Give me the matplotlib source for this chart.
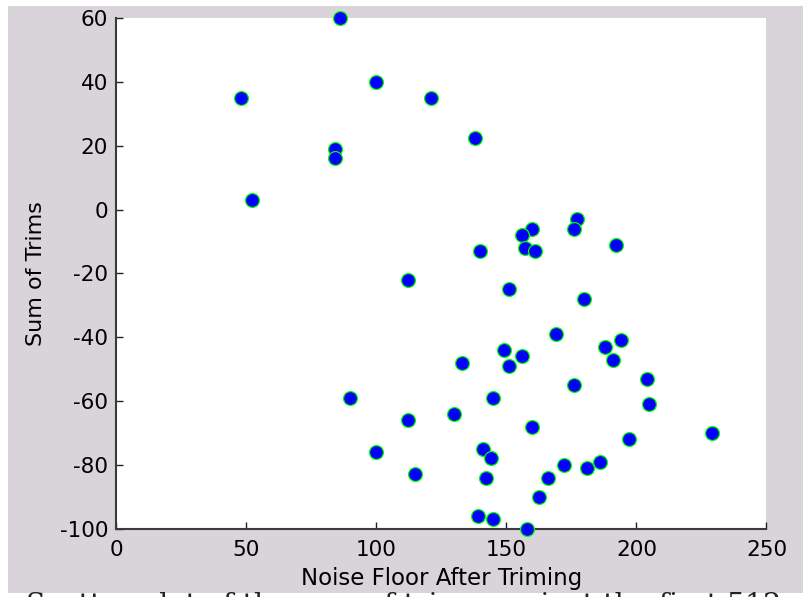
import numpy as np
import matplotlib
matplotlib.use('Agg')
import matplotlib.pyplot as plt
from matplotlib.patches import Rectangle

# noise floor after trimming vs sum of trims
noise_floor = [48, 52, 86, 84, 84, 100, 121, 138, 177, 176,
               160, 156, 157, 161, 140, 112, 151, 180, 169, 149,
               156, 192, 194, 188, 191, 133, 151, 90, 145, 130,
               112, 160, 100, 141, 144, 115, 142, 166, 162.5, 139,
               145, 158, 204, 176, 205, 229, 197, 172, 186, 181]
sum_trims = [35, 3, 60, 19, 16, 40, 35, 22.4, -3, -6,
             -6, -8, -12, -13, -13, -22, -25, -28, -39, -44,
             -46, -11, -41, -43, -47, -48, -49, -59, -59, -64,
             -66, -68, -76, -75, -78, -83, -84, -84, -90, -96,
             -97, -100, -53, -55, -61, -70, -72, -80, -79, -81]

xticks = [0, 50, 100, 150, 200, 250]
yticks = [-100, -80, -60, -40, -20, 0, 20, 40, 60]

plt.rcParams['font.family'] = ['DejaVu Sans']
plt.rcParams['axes.unicode_minus'] = False

fig = plt.figure(figsize=(8.04, 5.97), dpi=100, facecolor='white')
# matlab style gray window background
bg = Rectangle((8/804, 4/597), 1.0, 587/597, transform=fig.transFigure,
               facecolor='#d8d4da', edgecolor='none', zorder=-10)
fig.add_artist(bg)

ax = fig.add_axes([116.5/804, 68.3/597, 650/804, 510.7/597])
ax.set_zorder(1)
ax.set_facecolor('white')

ax.plot(noise_floor, sum_trims, linestyle='none', marker='o', markersize=10,
        markerfacecolor='#0000ff', markeredgecolor='#00ff00', markeredgewidth=0.9,
        clip_on=False, zorder=5)

ax.set_xlim(0, 250)
ax.set_ylim(-100, 60)
ax.set_xticks(xticks)
ax.set_yticks(yticks)

for s in ['top', 'right']:
    ax.spines[s].set_visible(False)
for s in ['left', 'bottom']:
    ax.spines[s].set_color('#3a3a3a')
    ax.spines[s].set_linewidth(1.5)

ax.tick_params(direction='in', length=5, width=1, colors='#222222',
               labelsize=15.5, labelcolor='black')
ax.tick_params(axis='x', pad=8)
ax.tick_params(axis='y', pad=6)

ax.set_xlabel('Noise Floor After Triming', fontsize=16.5, labelpad=5)
ax.set_ylabel('Sum of Trims', fontsize=16, labelpad=10)

# caption below the figure, cut off by the image edge as in the original
fig.text(26/804, 5/597, 'Scatter plot of the sum of trims against the first 512',
         family='DejaVu Serif', fontsize=20.5, va='top', ha='left', color='#222222')

plt.savefig('out.png', dpi=100, facecolor=fig.get_facecolor())
